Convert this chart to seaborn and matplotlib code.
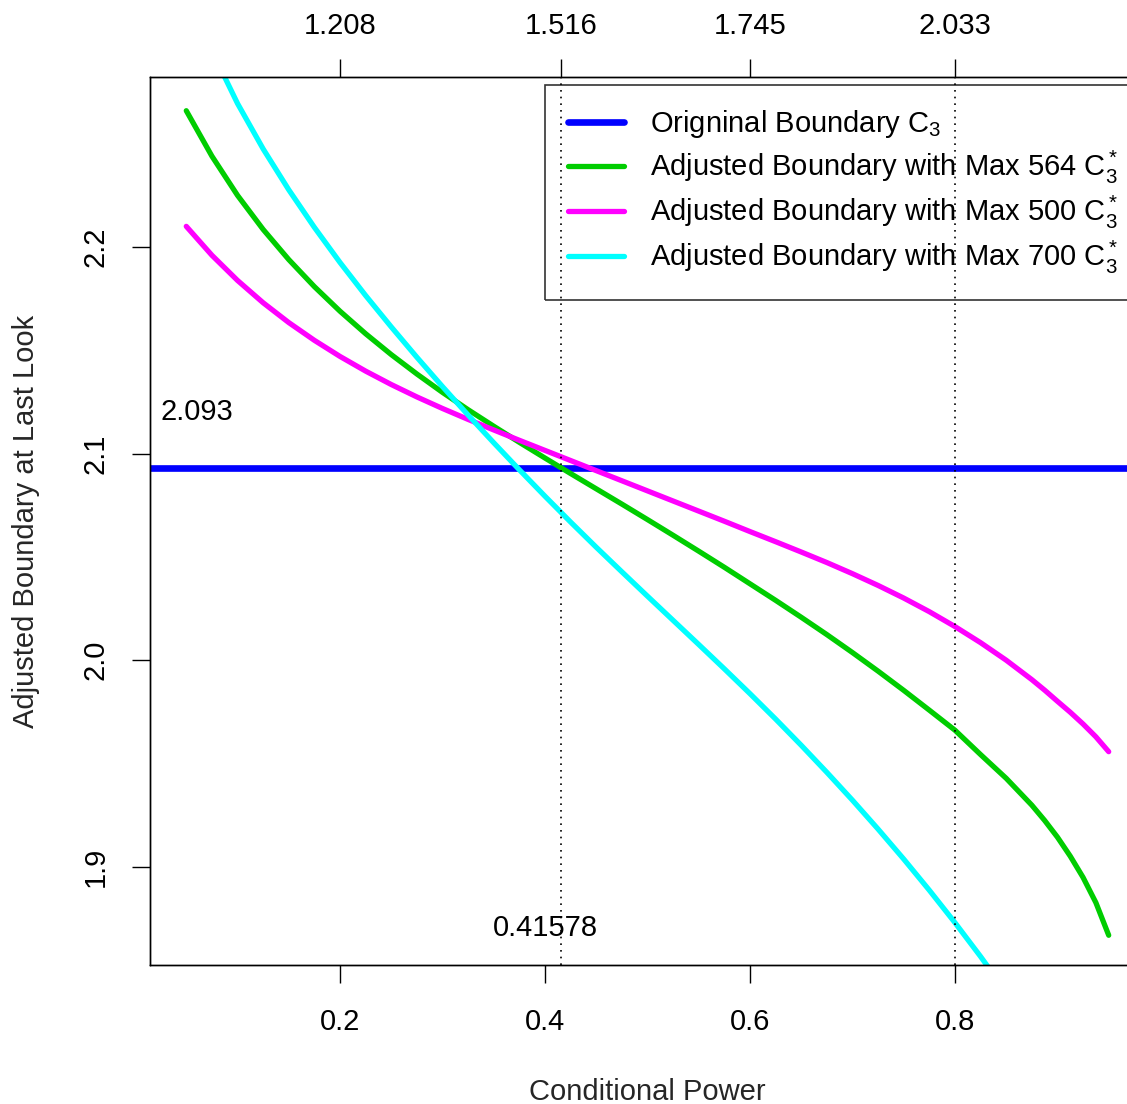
import pandas as pd
import matplotlib
matplotlib.use("Agg")
import matplotlib.pyplot as plt
import seaborn as sns

# Conditional power grid and boundaries
cond_power = [0.050, 0.075, 0.100, 0.125, 0.150, 0.175, 0.200, 0.225, 0.250, 0.275,
              0.300, 0.325, 0.350, 0.375, 0.400, 0.425, 0.450, 0.475, 0.500, 0.525,
              0.550, 0.575, 0.600, 0.625, 0.650, 0.675, 0.700, 0.725, 0.750, 0.775,
              0.800, 0.825, 0.850, 0.875, 0.8875, 0.900, 0.9125, 0.925, 0.9375, 0.950]

bound_564 = [2.2660, 2.2440, 2.2250, 2.2085, 2.1939, 2.1808, 2.1689, 2.1580, 2.1479, 2.1385,
             2.1296, 2.1212, 2.1132, 2.1054, 2.0978, 2.0903, 2.0829, 2.0755, 2.0680, 2.0604,
             2.0527, 2.0449, 2.0369, 2.0289, 2.0207, 2.0123, 2.0036, 1.9946, 1.9853, 1.9757,
             1.9660, 1.9542, 1.9427, 1.9297, 1.9223, 1.9142, 1.9050, 1.8947, 1.8825, 1.8667]

bound_500 = [2.2100, 2.1960, 2.1838, 2.1730, 2.1634, 2.1548, 2.1470, 2.1399, 2.1334, 2.1274,
             2.1218, 2.1165, 2.1114, 2.1064, 2.1015, 2.0966, 2.0917, 2.0868, 2.0819, 2.0770,
             2.0721, 2.0672, 2.0622, 2.0573, 2.0523, 2.0472, 2.0418, 2.0361, 2.0300, 2.0234,
             2.0162, 2.0084, 1.9999, 1.9905, 1.9854, 1.9800, 1.9747, 1.9690, 1.9628, 1.9556]

bound_700 = [2.3250, 2.2950, 2.2695, 2.2475, 2.2277, 2.2095, 2.1925, 2.1765, 2.1613, 2.1466,
             2.1324, 2.1186, 2.1052, 2.0921, 2.0793, 2.0668, 2.0546, 2.0427, 2.0309, 2.0192,
             2.0075, 1.9957, 1.9837, 1.9714, 1.9587, 1.9456, 1.9321, 1.9181, 1.9036, 1.8885,
             1.8728, 1.8564, 1.8392, 1.8212, 1.8118, 1.8020, 1.7920, 1.7820, 1.7720, 1.7610]

original_boundary = 2.093
cp_cutoff = 0.41578
cp_target = 0.8

x_ticks = [0.2, 0.4, 0.6, 0.8]
y_ticks = [1.9, 2.0, 2.1, 2.2]
top_tick_pos = [0.2, 0.41578, 0.6, 0.8]
top_tick_labels = ["1.208", "1.516", "1.745", "2.033"]

sns.set_style("ticks")
plt.rcParams['font.family'] = ['Liberation Sans', 'DejaVu Sans']
plt.rcParams['mathtext.fontset'] = 'custom'
plt.rcParams['mathtext.rm'] = 'Liberation Sans'
plt.rcParams['mathtext.it'] = 'Liberation Sans:italic'
plt.rcParams['axes.edgecolor'] = 'black'
plt.rcParams['xtick.color'] = 'black'
plt.rcParams['ytick.color'] = 'black'
plt.rcParams['text.color'] = 'black'

fig = plt.figure(figsize=(11.27, 11.04), dpi=100)
ax = fig.add_axes([0.1331, 0.1259, 0.8834, 0.8043])

ax.axhline(original_boundary, color='#0000FF', lw=4.8, label=r'Origninal Boundary $\mathrm{C}_3$')

series = [
    (bound_564, '#00CD00', r'Adjusted Boundary with Max 564 $\mathrm{C}_3^*$'),
    (bound_500, '#FF00FF', r'Adjusted Boundary with Max 500 $\mathrm{C}_3^*$'),
    (bound_700, '#00FFFF', r'Adjusted Boundary with Max 700 $\mathrm{C}_3^*$'),
]
for bound, col, lab in series:
    df = pd.DataFrame({'cp': cond_power, 'bound': bound})
    sns.lineplot(data=df, x='cp', y='bound', ax=ax, color=col, lw=3.8,
                 sort=False, estimator=None, label=lab, solid_capstyle='round',
                 solid_joinstyle='round')

# dotted reference lines
ax.axvline(cp_cutoff, color='black', ls=(0, (1, 3)), lw=1.2)
ax.axvline(cp_target, color='black', ls=(0, (1, 3)), lw=1.2)

ax.text(0.0244, 2.12, "2.093", fontsize=21, ha='left', va='center')
ax.text(0.40, 1.87, str(cp_cutoff), fontsize=21, ha='center', va='center')

ax.set_xlim(0.0146, 0.986)
ax.set_ylim(1.8523, 2.2823)
ax.set_xticks(x_ticks)
ax.set_xticklabels([str(t) for t in x_ticks])
ax.set_yticks(y_ticks)
ax.set_yticklabels([str(t) for t in y_ticks])
ax.tick_params(axis='both', direction='out', length=13, width=1.0, labelsize=21)
ax.tick_params(axis='x', pad=18)
ax.tick_params(axis='y', pad=16, labelrotation=90)
for lbl in ax.get_yticklabels():
    lbl.set_va('center')
ax.set_xlabel("Conditional Power", fontsize=21, labelpad=30)
ax.set_ylabel("Adjusted Boundary at Last Look", fontsize=21, labelpad=30)
for sp in ax.spines.values():
    sp.set_linewidth(1.0)
    sp.set_visible(True)

top = ax.twiny()
top.set_xlim(ax.get_xlim())
top.set_xticks(top_tick_pos)
top.set_xticklabels(top_tick_labels)
top.tick_params(axis='x', direction='out', length=13, width=1.0, labelsize=21, pad=14)
for sp in top.spines.values():
    sp.set_linewidth(1.0)

leg = ax.legend(loc='upper left', bbox_to_anchor=(0.3967, 0.991), fontsize=21,
                frameon=True, fancybox=False, edgecolor='black', facecolor='none',
                handlelength=1.9, handletextpad=0.9,
                labelspacing=0.28, borderpad=0.8, borderaxespad=0)
leg.get_frame().set_linewidth(1.2)

fig.savefig("out.png", dpi=100)
